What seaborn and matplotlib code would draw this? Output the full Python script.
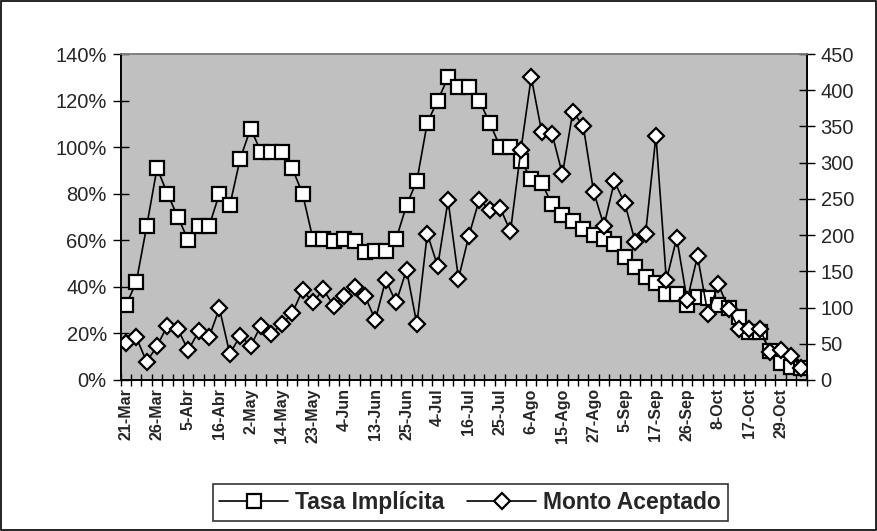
import numpy as np
import pandas as pd
import matplotlib
matplotlib.use("Agg")
import matplotlib.pyplot as plt
import seaborn as sns
from matplotlib.ticker import PercentFormatter, FixedLocator, MultipleLocator
from matplotlib.patches import Rectangle

sns.set_theme(style="white")
plt.rcParams["font.family"] = ["Liberation Sans", "DejaVu Sans"]

# tick labels shown every third auction
tick_labels = ["21-Mar", "26-Mar", "5-Abr", "16-Abr", "2-May", "14-May", "23-May",
               "4-Jun", "13-Jun", "25-Jun", "4-Jul", "16-Jul", "25-Jul", "6-Ago",
               "15-Ago", "27-Ago", "5-Sep", "17-Sep", "26-Sep", "8-Oct", "17-Oct",
               "29-Oct"]

# Tasa Implicita (%)
tasa = [32, 42, 66, 91, 80, 70, 60, 66, 66, 80, 75, 95, 108, 98, 98, 98,
        91, 80, 60.5, 60.5, 59.7, 60.5, 59.8, 55, 55.5, 55.5, 60.5, 75, 85.6, 110.5,
        120, 130, 126, 126, 120, 110.5, 100.2, 100.2, 94.2, 86.3, 84.7, 75.4, 70.9, 68.4,
        64.8, 62.3, 60.7, 58.3, 53, 48.7, 44.4, 41.5, 36.8, 36.8, 32.2, 35.8, 35, 32.2,
        30.8, 27.2, 20.7, 20.7, 12.6, 7.2, 5.7, 5.0]

# Monto Aceptado
monto = [51, 59, 25, 47, 75, 70, 41, 67, 59, 99, 36, 61, 47, 75, 64, 77,
         92, 124, 107, 125, 102, 116, 128, 116, 83, 138, 107, 152, 77, 202,
         157, 248, 140, 199, 249, 235, 238, 205, 317, 418, 343, 340, 284, 370,
         351, 260, 213, 274, 244, 191, 202, 337, 138, 196, 110, 171, 91, 132,
         98, 70, 70, 70, 39, 42, 33, 17]

df = pd.DataFrame({"pos": np.arange(len(tasa)),
                   "tasa": np.array(tasa) / 100.0,
                   "monto": monto})

fig = plt.figure(figsize=(8.77, 5.31), dpi=100)
ax = fig.add_axes([0.1376, 0.2844, 0.7822, 0.6139])
ax.set_facecolor("#C0C0C0")

sns.lineplot(data=df, x="pos", y="tasa", ax=ax, color="black", lw=1.2,
             marker="s", markersize=10.5, markerfacecolor="white",
             markeredgecolor="black", markeredgewidth=1.6, label="Tasa Implícita",
             legend=False)

ax2 = ax.twinx()
sns.lineplot(data=df, x="pos", y="monto", ax=ax2, color="black", lw=1.2,
             marker="D", markersize=7.8, markerfacecolor="white",
             markeredgecolor="black", markeredgewidth=1.6, label="Monto Aceptado",
             legend=False)

n = len(tasa)
ax.set_xlim(-0.5, n - 0.5)
ax.set_ylim(0, 1.4)
ax2.set_ylim(0, 450)

ax.yaxis.set_major_locator(MultipleLocator(0.2))
ax.yaxis.set_major_formatter(PercentFormatter(xmax=1, decimals=0))
ax2.yaxis.set_major_locator(MultipleLocator(50))

ax.xaxis.set_major_locator(FixedLocator(np.arange(0, n, 3)))
ax.set_xticklabels(tick_labels, rotation=90, fontweight="bold", fontsize=11.5)
ax.xaxis.set_minor_locator(FixedLocator(np.arange(-0.5, n, 1)))
ax.tick_params(axis="x", which="major", length=0, pad=6)
ax.tick_params(axis="x", which="minor", direction="inout", length=8, width=1,
               color="black", bottom=True)
ax.tick_params(axis="y", direction="inout", length=12, width=1, color="black",
               labelsize=14.5, left=True, pad=4)
ax2.tick_params(axis="y", direction="inout", length=12, width=1, color="black",
                labelsize=14.5, right=True, pad=4)

ax.set_xlabel("")
ax.set_ylabel("")
ax2.set_ylabel("")

for a in (ax, ax2):
    for s in ("left", "right", "bottom"):
        a.spines[s].set_color("black")
        a.spines[s].set_linewidth(1.2)
    a.spines["top"].set_color("#808080")
    a.spines["top"].set_linewidth(1.2)

h1, l1 = ax.get_legend_handles_labels()
h2, l2 = ax2.get_legend_handles_labels()
leg = fig.legend(h1 + h2, l1 + l2, loc="center", bbox_to_anchor=(0.536, 0.053),
                 ncol=2, frameon=True, fancybox=False, edgecolor="black",
                 handlelength=3.0, columnspacing=1.0, handletextpad=0.3,
                 borderpad=0.3, prop={"weight": "bold", "size": 16.5})
leg.get_frame().set_linewidth(1.2)

fig.patches.append(Rectangle((0.001, 0.002), 0.998, 0.996, transform=fig.transFigure,
                             fill=False, edgecolor="black", lw=1.2))

fig.savefig("out.png", dpi=100, facecolor="white")
